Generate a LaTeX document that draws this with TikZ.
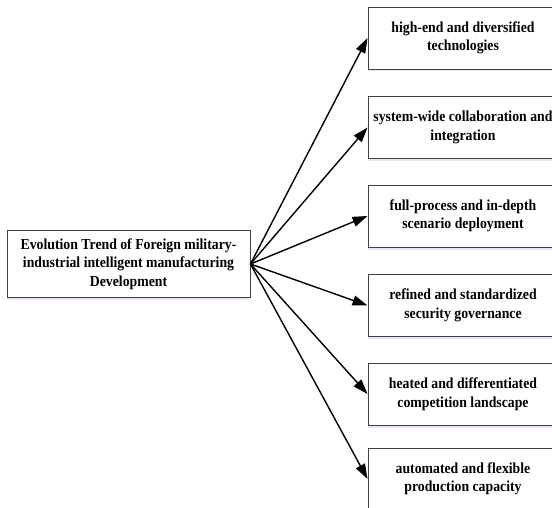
\documentclass[tikz,border=0pt]{standalone}
\usepackage{fontspec}
\setmainfont[FakeStretch=0.9]{Liberation Serif}
\usetikzlibrary{arrows.meta,shadows}
\begin{document}
\begin{tikzpicture}[x=1pt,y=-1pt,
  box/.style={draw=black!75, line width=0.9pt, fill=white, align=center,
    font=\bfseries\fontsize{15.3}{18.5}\selectfont, inner sep=0pt,
    drop shadow={shadow xshift=0pt, shadow yshift=-2.5pt, fill=blue!20, opacity=0.5}},
  rbox/.style={box, minimum width=190pt, minimum height=62pt},
  link/.style={draw=black, line width=1.4pt, -{Triangle[length=15pt,width=10pt]}}
]
\useasboundingbox (0,0) rectangle (552,508);
\clip (0,0) rectangle (552,508);
\node[box, minimum width=243pt, minimum height=67pt] (L) at (128.5,264)
  {Evolution Trend of Foreign military-\\industrial intelligent manufacturing\\Development};
\node[rbox] (r1) at (463,38) {high-end and diversified\\technologies};
\node[rbox] (r2) at (463,127.5) {system-wide collaboration and\\integration};
\node[rbox] (r3) at (463,216) {full-process and in-depth\\scenario deployment};
\node[rbox] (r4) at (463,305.5) {refined and standardized\\security governance};
\node[rbox] (r5) at (463,394) {heated and differentiated\\competition landscape};
\node[rbox] (r6) at (463,479) {automated and flexible\\production capacity};
\foreach \n in {r1,r2,r3,r4,r5,r6}
  \draw[link] (L.east) -- (\n.west);
\end{tikzpicture}
\end{document}
